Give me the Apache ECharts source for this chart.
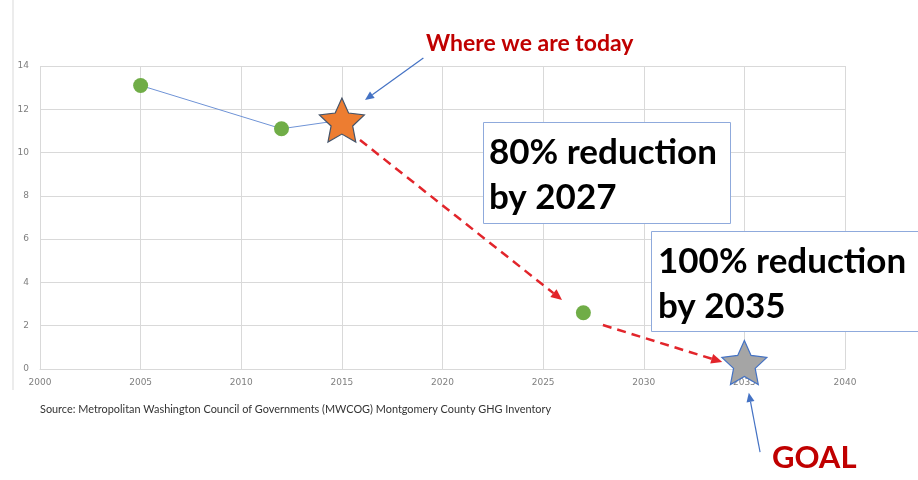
<!DOCTYPE html>
<html><head><meta charset="utf-8">
<script src="https://cdn.jsdelivr.net/npm/echarts@6/dist/echarts.min.js"></script>
<style>html,body{margin:0;padding:0;background:#fff}#c{width:918px;height:480px}</style>
</head><body><div id="c"></div>
<script>
// ---- data ----
const historyYears = [2005, 2012, 2015];
const historyValues = [13.1, 11.1, 11.5];
const targetYears = [2027, 2035];
const targetValues = [2.6, 0];
const todayStar = [2015, 11.5];
const goalStar = [2035, 0.3];
const xTicks = [2000, 2005, 2010, 2015, 2020, 2025, 2030, 2035, 2040];
const yTicks = [0, 2, 4, 6, 8, 10, 12, 14];
// annotation arrows in data space [from, to]
const redArrows = [[[2015.9, 10.58], [2025.94, 3.19]], [[2027.97, 2.03], [2033.9, 0.32]]];
const blueArrows = [[[2019.05, 14.37], [2016.15, 12.43]], [[2035.78, -3.84], [2035.22, -1.1]]];

function starPath() {
  const pts = [];
  for (let i = 0; i < 10; i++) {
    const r = i % 2 ? 0.48 : 1;
    const a = -Math.PI / 2 + i * Math.PI / 5;
    pts.push([50 + 50 * r * Math.cos(a), 50 + 50 * r * Math.sin(a)]);
  }
  return 'path://M' + pts.map(p => p[0].toFixed(2) + ',' + p[1].toFixed(2)).join('L') + 'Z';
}
const STAR = starPath();

const chart = echarts.init(document.getElementById('c'));
const gridColor = '#D9D9D9';
const labelColor = '#7F7F7F';
const FONT = 'Lato, "Liberation Sans", sans-serif';
chart.setOption({
  animation: false,
  grid: { left: 40, right: 73, top: 66, bottom: 111 },
  xAxis: {
    type: 'value', min: xTicks[0], max: xTicks[xTicks.length - 1], interval: 5,
    axisLine: { show: true, lineStyle: { color: gridColor } }, axisTick: { show: false },
    splitLine: { show: true, lineStyle: { color: gridColor } },
    axisLabel: { color: labelColor, fontSize: 9, margin: 9, fontFamily: '"DejaVu Sans", sans-serif', formatter: v => String(v) }
  },
  yAxis: {
    type: 'value', min: yTicks[0], max: yTicks[yTicks.length - 1], interval: 2,
    axisLine: { show: false }, axisTick: { show: false },
    splitLine: { show: true, lineStyle: { color: gridColor } },
    axisLabel: { color: labelColor, fontSize: 9, margin: 11, fontFamily: '"DejaVu Sans", sans-serif' }
  },
  series: [
    {
      type: 'line', data: historyYears.map((y, i) => [y, historyValues[i]]),
      symbol: 'circle', symbolSize: 15,
      itemStyle: { color: '#70AD47', opacity: 1 },
      lineStyle: { color: '#6F93D6', width: 1 }, z: 3
    },
    {
      type: 'scatter', data: targetYears.map((y, i) => [y, targetValues[i]]),
      symbol: 'circle', symbolSize: 15, itemStyle: { color: '#70AD47', opacity: 1 }, z: 3
    },
    {
      type: 'scatter', data: [todayStar], symbol: STAR, symbolSize: [45, 44],
      itemStyle: { color: '#ED7D31', borderColor: '#44546A', borderWidth: 1.2, opacity: 1 }, z: 5
    },
    {
      type: 'scatter', data: [goalStar], symbol: STAR, symbolSize: [45, 44],
      itemStyle: { color: '#A5A5A5', borderColor: '#4472C4', borderWidth: 1.2, opacity: 1 }, z: 5
    }
  ]
});

function px(p) { return chart.convertToPixel({ gridIndex: 0 }, p); }
function arrow(from, to, color, width, dash, headLen, headW) {
  const a = px(from), b = px(to);
  const dx = b[0] - a[0], dy = b[1] - a[1], L = Math.hypot(dx, dy);
  const ux = dx / L, uy = dy / L;
  const base = [b[0] - ux * headLen, b[1] - uy * headLen];
  const els = [];
  els.push({ type: 'line', shape: { x1: a[0], y1: a[1], x2: base[0], y2: base[1] },
    style: { stroke: color, lineWidth: width, lineDash: dash }, z: 10 });
  els.push({ type: 'polygon', shape: { points: [b,
    [base[0] - uy * headW, base[1] + ux * headW], [base[0] + uy * headW, base[1] - ux * headW]] },
    style: { fill: color }, z: 10 });
  return els;
}
const g = [];
g.push({ type: 'line', shape: { x1: 13, y1: 0, x2: 13, y2: 390 }, style: { stroke: '#D9D9D9', lineWidth: 1 } });
redArrows.forEach(r => g.push(...arrow(r[0], r[1], '#E2252B', 2.5, [9, 6], 11, 5)));
blueArrows.forEach(r => g.push(...arrow(r[0], r[1], '#4472C4', 1.2, null, 9, 4)));
// text boxes
g.push({ type: 'rect', shape: { x: 483.5, y: 122.5, width: 247, height: 101 },
  style: { fill: '#fff', stroke: '#8FAADC', lineWidth: 1 }, z: 20 });
g.push({ type: 'text', x: 489, y: 130, style: { text: '80% reduction\nby 2027', font: 'bold 35px ' + FONT, fill: '#000', lineHeight: 45 }, z: 21 });
g.push({ type: 'rect', shape: { x: 651.5, y: 231.5, width: 280, height: 100 },
  style: { fill: '#fff', stroke: '#8FAADC', lineWidth: 1 }, z: 20 });
g.push({ type: 'text', x: 658, y: 239, style: { text: '100% reduction\nby 2035', font: 'bold 35px ' + FONT, fill: '#000', lineHeight: 45 }, z: 21 });
g.push({ type: 'text', x: 426, y: 32, style: { text: 'Where we are today', font: 'bold 23px ' + FONT, fill: '#C00000' }, z: 21 });
g.push({ type: 'text', x: 772, y: 442, style: { text: 'GOAL', font: 'bold 31px ' + FONT, fill: '#C00000' }, z: 21 });
g.push({ type: 'text', x: 40, y: 404, style: { text: 'Source: Metropolitan Washington Council of Governments (MWCOG) Montgomery County GHG Inventory', font: '10.9px ' + FONT, fill: '#333' }, z: 21 });
chart.setOption({ graphic: g });
</script></body></html>
